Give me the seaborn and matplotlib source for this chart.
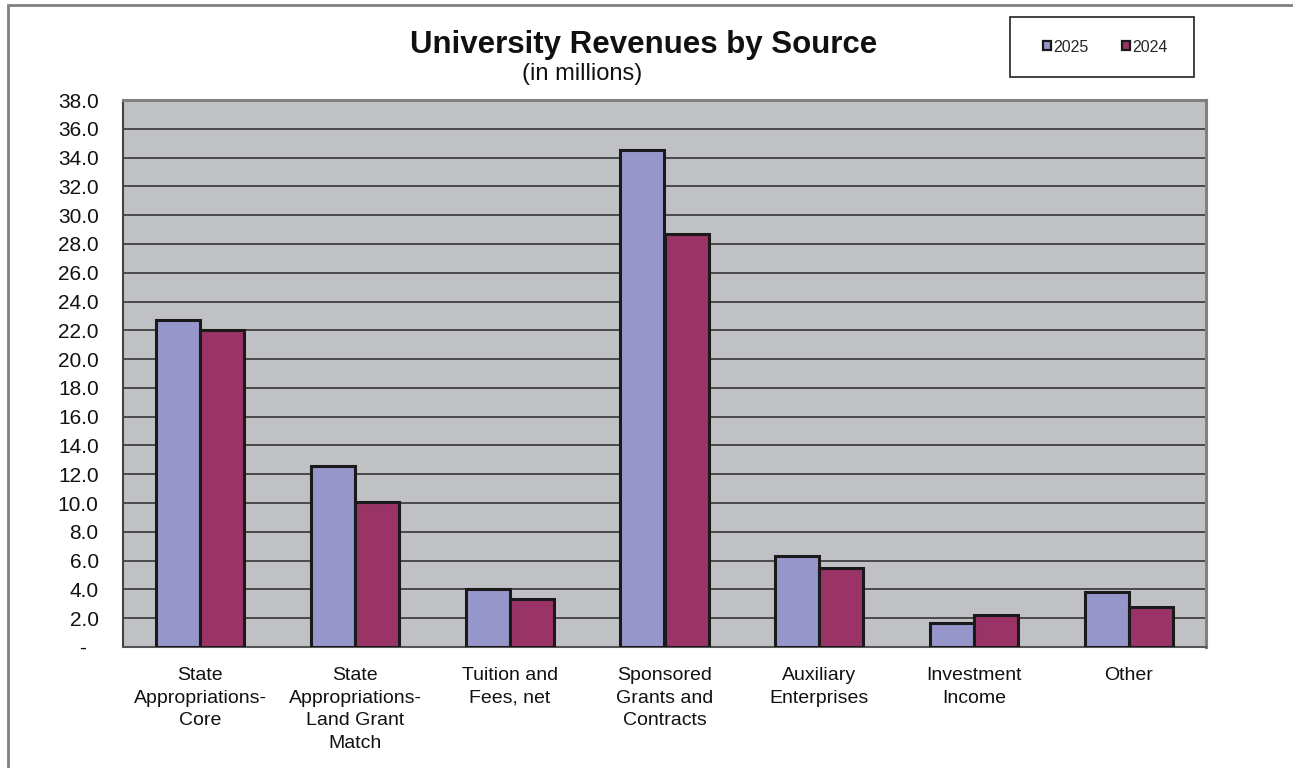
import matplotlib
matplotlib.use("Agg")
import matplotlib.pyplot as plt
from matplotlib.patches import Rectangle, Patch
from matplotlib.ticker import FixedLocator, FuncFormatter
import numpy as np
import pandas as pd
import seaborn as sns

categories = [
    "State\nAppropriations-\nCore",
    "State\nAppropriations-\nLand Grant\nMatch",
    "Tuition and\nFees, net",
    "Sponsored\nGrants and\nContracts",
    "Auxiliary\nEnterprises",
    "Investment\nIncome",
    "Other",
]
years = ["2025", "2024"]
values_2025 = [22.7, 12.6, 4.0, 34.5, 6.3, 1.7, 3.8]
values_2024 = [22.0, 10.1, 3.3, 28.7, 5.5, 2.2, 2.8]
y_ticks = np.arange(0, 38.1, 2.0)

colors = {"2025": "#9696CB", "2024": "#9A3366"}

df = pd.DataFrame({
    "Source": categories * 2,
    "Year": ["2025"] * len(categories) + ["2024"] * len(categories),
    "Revenue": values_2025 + values_2024,
})

sns.set_style("white")
plt.rcParams["font.family"] = ["Liberation Sans", "DejaVu Sans"]

W, H = 1293, 768
fig = plt.figure(figsize=(W / 100, H / 100), dpi=100)
ax = fig.add_axes([123 / W, 1 - 647 / H, (1206 - 123) / W, (647 - 100) / H])

sns.barplot(
    data=df, x="Source", y="Revenue", hue="Year", hue_order=years,
    palette=colors, width=0.57, edgecolor="#1a1a1a", linewidth=2.2,
    saturation=1, legend=False, ax=ax, zorder=3,
)

ax.set_facecolor("#C0C1C5")
ax.set_xlim(-0.5, len(categories) - 0.5)
ax.set_ylim(0, 38)
ax.yaxis.set_major_locator(FixedLocator(y_ticks))
ax.yaxis.set_major_formatter(FuncFormatter(lambda v, p: "-  " if abs(v) < 1e-9 else f"{v:.1f}"))
ax.grid(axis="y", color="#353535", linewidth=1.2, zorder=1)
ax.set_axisbelow(True)

# Category boundary ticks on the x axis, labels centred on each group
ax.set_xticks(np.arange(-0.5, len(categories) + 0.5, 1.0))
ax.set_xticklabels([])
ax.set_xticks(np.arange(len(categories)), minor=True)
ax.set_xticklabels(categories, minor=True, fontsize=14, linespacing=1.42)
ax.tick_params(axis="x", which="major", direction="out", length=4.5, width=1.2, color="#333333")
ax.tick_params(axis="x", which="minor", length=0, pad=14.5)
ax.tick_params(axis="y", direction="out", length=4.5, width=1.2, color="#333333", labelsize=15, pad=13)
for lab in ax.get_yticklabels():
    lab.set_color("#111111")
for lab in ax.get_xticklabels(minor=True):
    lab.set_color("#111111")

ax.set_xlabel("")
ax.set_ylabel("")
for side in ["top", "right"]:
    ax.spines[side].set_color("#808080")
    ax.spines[side].set_linewidth(2.2)
ax.spines["left"].set_color("#444444")
ax.spines["left"].set_linewidth(1.5)
ax.spines["bottom"].set_color("#555555")
ax.spines["bottom"].set_linewidth(1.5)

# Titles
fig.text(643.5 / W, 1 - 53 / H, "University Revenues by Source", ha="center", va="baseline",
         fontsize=22.5, fontweight="bold", color="#111111")
fig.text(582 / W, 1 - 80 / H, "(in millions)", ha="center", va="baseline",
         fontsize=17, color="#111111")

# Legend box
fig.patches.append(Rectangle((1010 / W, 1 - 77 / H), 184 / W, 60 / H,
                             transform=fig.transFigure, facecolor="white",
                             edgecolor="#222222", linewidth=1.2, zorder=5))
handles = [Patch(facecolor=colors[y], edgecolor="#1a1a1a", linewidth=1.6) for y in years]
leg = fig.legend(
    handles, years, loc="center", bbox_to_anchor=(1105 / W, 1 - 47 / H),
    ncol=2, frameon=False, fontsize=11.5,
    handlelength=0.5, handleheight=0.5, handletextpad=0.15, columnspacing=2.1,
    borderpad=0, borderaxespad=0,
)
leg.set_zorder(6)

# Outer chart frame
fig.patches.append(Rectangle((8 / W, -0.05), 1.1, (H - 5) / H + 0.05,
                             transform=fig.transFigure, fill=False,
                             edgecolor="#808080", linewidth=2))

fig.savefig("out.png", dpi=100)
